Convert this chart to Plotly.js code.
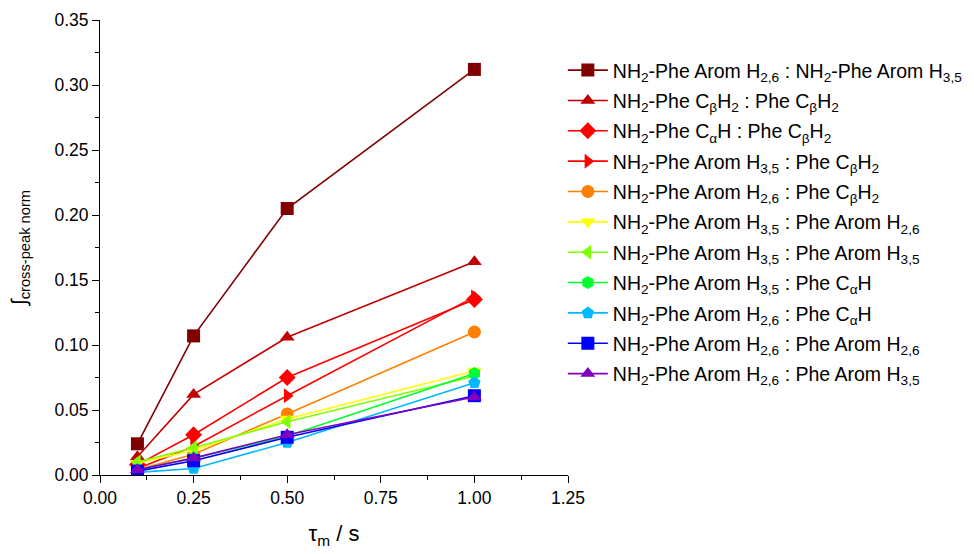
<!DOCTYPE html>
<html>
<head>
<meta charset="utf-8">
<script src="https://cdn.plot.ly/plotly-3.0.1.min.js"></script>
<style>
  html, body { margin: 0; padding: 0; background: #fff; }
  #chart { width: 974px; height: 554px; }
</style>
</head>
<body>
<div id="chart"></div>
<script>
// Mixing times (s)
const mixTimes = [0.1, 0.25, 0.5, 1.0];

// Series labels
const labels = [
  "NH<sub>2</sub>-Phe Arom H<sub>2,6</sub> : NH<sub>2</sub>-Phe Arom H<sub>3,5</sub>",
  "NH<sub>2</sub>-Phe C<sub>β</sub>H<sub>2</sub> : Phe C<sub>β</sub>H<sub>2</sub>",
  "NH<sub>2</sub>-Phe C<sub>α</sub>H : Phe C<sub>β</sub>H<sub>2</sub>",
  "NH<sub>2</sub>-Phe Arom H<sub>3,5</sub> : Phe C<sub>β</sub>H<sub>2</sub>",
  "NH<sub>2</sub>-Phe Arom H<sub>2,6</sub> : Phe C<sub>β</sub>H<sub>2</sub>",
  "NH<sub>2</sub>-Phe Arom H<sub>3,5</sub> : Phe Arom H<sub>2,6</sub>",
  "NH<sub>2</sub>-Phe Arom H<sub>3,5</sub> : Phe Arom H<sub>3,5</sub>",
  "NH<sub>2</sub>-Phe Arom H<sub>3,5</sub> : Phe C<sub>α</sub>H",
  "NH<sub>2</sub>-Phe Arom H<sub>2,6</sub> : Phe C<sub>α</sub>H",
  "NH<sub>2</sub>-Phe Arom H<sub>2,6</sub> : Phe Arom H<sub>2,6</sub>",
  "NH<sub>2</sub>-Phe Arom H<sub>2,6</sub> : Phe Arom H<sub>3,5</sub>"
];

// Normalised cross-peak integrals per series
const arom26_arom35 = [0.024, 0.107, 0.205, 0.312];
const cb_cb         = [0.014, 0.062, 0.106, 0.164];
const ca_cb         = [0.008, 0.031, 0.075, 0.135];
const arom35_cb     = [0.005, 0.022, 0.061, 0.137];
const arom26_cb     = [0.004, 0.016, 0.047, 0.110];
const arom35_ar26   = [0.009, 0.019, 0.043, 0.080];
const arom35_ar35   = [0.010, 0.021, 0.041, 0.076];
const arom35_ca     = [0.004, 0.013, 0.030, 0.078];
const arom26_ca     = [0.002, 0.005, 0.025, 0.071];
const arom26_ar26   = [0.003, 0.011, 0.029, 0.061];
const arom26_ar35   = [0.004, 0.013, 0.031, 0.060];

const seriesValues = [arom26_arom35, cb_cb, ca_cb, arom35_cb, arom26_cb,
  arom35_ar26, arom35_ar35, arom35_ca, arom26_ca, arom26_ar26, arom26_ar35];

const colors = ["#800000", "#c00000", "#ff0000", "#ff0000", "#ff8000",
  "#ffff00", "#80ff00", "#00ff30", "#00b8ff", "#0000ff", "#8000c0"];
const symbols = ["square", "triangle-up", "diamond", "triangle-right", "circle",
  "triangle-down", "triangle-left", "hexagon", "pentagon", "square", "triangle-up"];

const traces = seriesValues.map((vals, i) => ({
  x: mixTimes,
  y: vals,
  name: labels[i],
  legendgroup: "s" + i,
  type: "scatter",
  mode: "lines+markers",
  line: { color: colors[i], width: 1.6 },
  marker: { color: colors[i], symbol: symbols[i], size: 13, line: { width: 0 } }
}));

const font = { family: "Liberation Sans, Arial, sans-serif", color: "#000" };

const layout = {
  width: 974,
  height: 554,
  paper_bgcolor: "#fff",
  plot_bgcolor: "#fff",
  margin: { l: 100, r: 406, t: 20, b: 79, autoexpand: false },
  font: Object.assign({ size: 17 }, font),
  showlegend: true,
  legend: {
    x: 0.989, xanchor: "left",
    y: 0.932, yanchor: "top",
    font: Object.assign({ size: 19.5 }, font),
    bgcolor: "rgba(0,0,0,0)",
    itemwidth: 40,
    tracegroupgap: 2
  },
  xaxis: {
    range: [0, 1.25],
    dtick: 0.25,
    tick0: 0,
    tickformat: ".2f",
    showgrid: false,
    zeroline: false,
    showline: true,
    linecolor: "#000",
    linewidth: 1,
    ticks: "outside",
    ticklen: 7,
    tickcolor: "#000",
    tickfont: Object.assign({ size: 17.5 }, font),
    minor: { ticks: "outside", ticklen: 4, dtick: 0.125, tickcolor: "#000", showgrid: false },
    title: { text: "τ<sub>m</sub> / s", font: Object.assign({ size: 22 }, font), standoff: 18 }
  },
  yaxis: {
    range: [0, 0.35],
    dtick: 0.05,
    tick0: 0,
    tickformat: ".2f",
    showgrid: false,
    zeroline: false,
    showline: true,
    linecolor: "#000",
    linewidth: 1,
    ticks: "outside",
    ticklen: 7,
    tickcolor: "#000",
    tickfont: Object.assign({ size: 17.5 }, font),
    minor: { ticks: "outside", ticklen: 4, dtick: 0.025, tickcolor: "#000", showgrid: false },
    title: { text: "∫<sub>cross-peak norm</sub>", font: Object.assign({ size: 21 }, font), standoff: 22 }
  }
};

Plotly.newPlot("chart", traces, layout, { displayModeBar: false, staticPlot: true });
</script>
</body>
</html>
